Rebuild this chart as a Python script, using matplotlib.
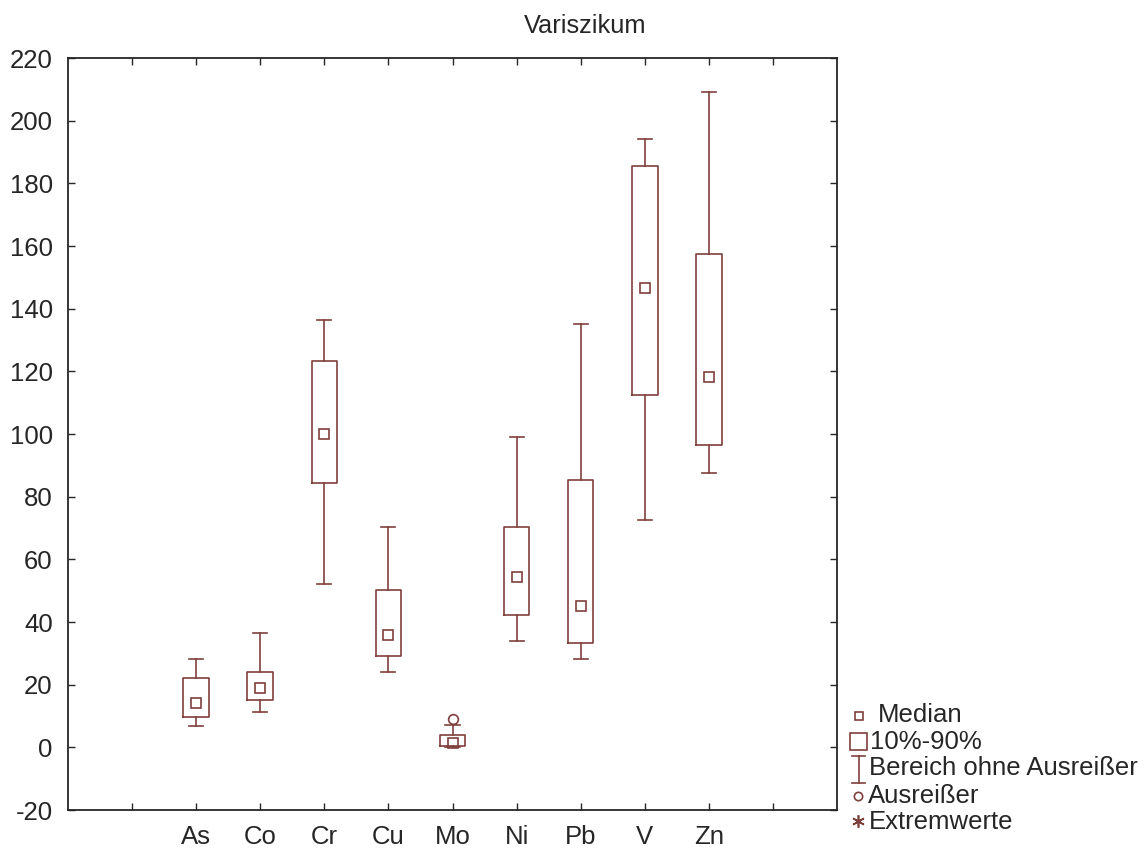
import matplotlib
matplotlib.use("Agg")
import matplotlib.pyplot as plt
from matplotlib.patches import Rectangle

plt.rcParams['font.family'] = ['Liberation Sans', 'DejaVu Sans']
plt.rcParams['axes.unicode_minus'] = False

# Perzentile je Element (Variszikum)
elemente = ["As", "Co", "Cr", "Cu", "Mo", "Ni", "Pb", "V", "Zn"]
median = [14.0, 18.8, 100.0, 36.0, 1.3, 54.5, 45.2, 146.5, 118.2]
p10 = [9.6, 15.0, 84.4, 29.2, 0.3, 42.1, 33.3, 112.4, 96.4]
p90 = [22.0, 23.9, 123.3, 50.3, 3.8, 70.4, 85.2, 185.5, 157.4]
min_ohne = [6.8, 11.2, 52.0, 24.2, 0.0, 34.0, 28.3, 72.6, 87.5]
max_ohne = [28.1, 36.5, 136.3, 70.4, 7.0, 99.2, 135.0, 194.3, 209.2]
ausreisser = [[], [], [], [], [9.2], [], [], [], []]

farbe = "#7f403d"
textfarbe = "#262626"

W, H = 1147, 848
fig = plt.figure(figsize=(W / 100, H / 100), dpi=100)
ax = fig.add_axes([68 / W, 1 - 810 / H, (837 - 68) / W, (810 - 58) / H])

pos = list(range(2, 2 + len(elemente)))
stats = []
for i, name in enumerate(elemente):
    stats.append(dict(label=name, med=median[i], q1=p10[i], q3=p90[i],
                      whislo=min_ohne[i], whishi=max_ohne[i],
                      fliers=ausreisser[i]))

lp = dict(color=farbe, linewidth=1.2)
ax.bxp(stats, positions=pos, widths=0.4, capwidths=0.22,
       boxprops=lp, whiskerprops=lp, capprops=lp,
       medianprops=dict(visible=False),
       flierprops=dict(marker='o', markersize=7, markerfacecolor='none',
                       markeredgecolor=farbe, markeredgewidth=1.2),
       manage_ticks=False)
ax.plot(pos, median, 's', ms=7, mfc='none', mec=farbe, mew=1.2, zorder=3)

ax.set_xlim(0, 12)
ax.set_ylim(-20, 220)
ax.set_xticks(range(1, 12))
ax.set_xticklabels([""] + elemente + [""])
ax.set_yticks(range(-20, 221, 20))
ax.tick_params(direction='in', length=5, width=1.0, color=textfarbe,
               top=True, right=True, labelsize=18.5, labelcolor=textfarbe,
               pad=11)
for s in ax.spines.values():
    s.set_color(textfarbe)
    s.set_linewidth(1.3)

fig.text(585 / W, 1 - 26 / H, "Variszikum", ha='center', va='center',
         fontsize=18.3, color=textfarbe)

# Legende in Pixelkoordinaten rechts neben dem Diagramm
lg = fig.add_axes([0, 0, 1, 1], facecolor='none')
lg.set_xlim(0, W)
lg.set_ylim(H, 0)
lg.axis('off')
lg.plot([859], [716], 's', ms=6, mfc='none', mec=farbe, mew=1.2)
lg.add_patch(Rectangle((850, 733), 17, 17, fill=False, ec=farbe, lw=1.2))
lg.plot([858.5, 858.5], [756, 783], color=farbe, lw=1.2)
lg.plot([852, 865], [756, 756], color=farbe, lw=1.2)
lg.plot([852, 865], [783, 783], color=farbe, lw=1.2)
lg.plot([858], [796], 'o', ms=6, mfc='none', mec=farbe, mew=1.2)
lg.plot([858], [821], marker=(6, 2, 0), ms=9, color=farbe, mew=1.2)

eintraege = [(878, 715, "Median"), (870, 742, "10%-90%"),
             (869, 768, "Bereich ohne Ausreißer"), (868, 796, "Ausreißer"),
             (869, 822, "Extremwerte")]
for x, y, t in eintraege:
    lg.text(x, y, t, ha='left', va='center', fontsize=18.5, color=textfarbe)

fig.savefig("out.png", dpi=100, facecolor='white')
